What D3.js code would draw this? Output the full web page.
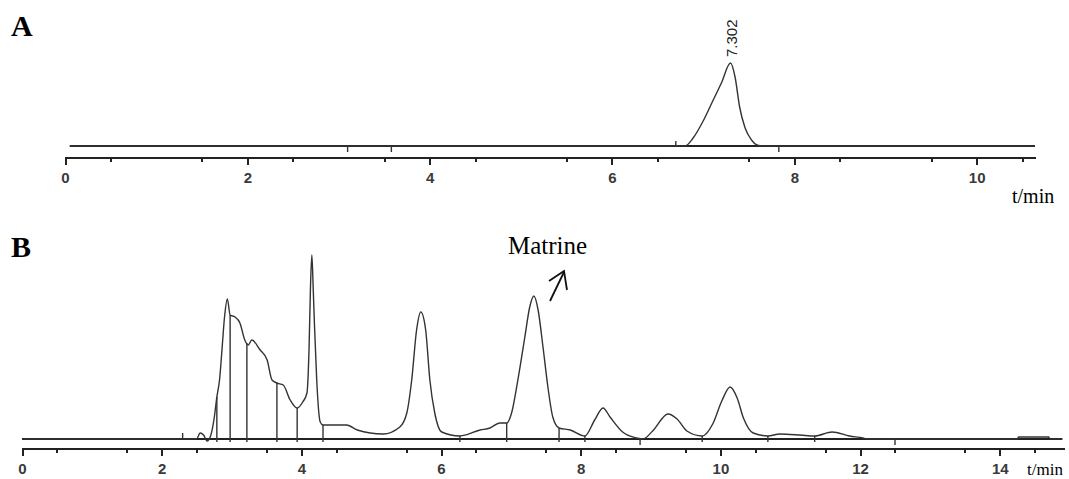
<!DOCTYPE html>
<meta charset="utf-8">
<style>
    body { margin: 0; background-color: #fff; }
    .axis path, .axis line { stroke: #222; stroke-width: 2px; shape-rendering: crispEdges; }
    .axis text { font: bold 15px "Liberation Sans", Arial, sans-serif; fill: #3a3a3a; }
    .base { stroke: #222; stroke-width: 1.6px; shape-rendering: crispEdges; }
    .trace { fill: none; stroke: #333; stroke-width: 1.4px; }
    .drop { stroke: #333; stroke-width: 1.4px; }
    .mark { stroke: #333; stroke-width: 1.4px; }
    .panel { font: bold 30px "Liberation Serif", "Times New Roman", serif; }
    .unit { font: 20px "Liberation Serif", "Times New Roman", serif; }
</style>
<body>
<svg width="1069" height="479"></svg>
<script src="https://d3js.org/d3.v7.min.js"></script>
<script>
    // panel A: standard (matrine)
    var timeA =   [0.05, 6.80, 6.89, 7.00, 7.10, 7.20, 7.30, 7.35, 7.40, 7.46, 7.53, 7.59, 7.65, 10.64];
    var signalA = [0,    0,    8,    25,   44,   63,   83,   69,   39,   18,   6,    1,    0,    0];
    var peakLabelA = {t: 7.30, label: "7.302"};
    var marksA = [3.1, 3.58, 7.83];   // small integration marks below baseline
    var marksAUp = [6.7];
    var majorA = [0, 2, 4, 6, 8, 10];
    var minorA = d3.range(0.5, 10.6, 1);

    // panel B: sample
    var timeB = [0.0, 2.30, 2.50, 2.55, 2.60, 2.65, 2.70, 2.75, 2.79, 2.83, 2.86, 2.90, 2.94, 2.98, 3.05, 3.12,
        3.19, 3.24, 3.29, 3.41, 3.51, 3.58, 3.65, 3.74, 3.84, 3.94, 4.02, 4.08, 4.11, 4.13, 4.15, 4.17, 4.19,
        4.22, 4.27, 4.31, 4.65, 4.80, 5.17, 5.41, 5.51, 5.58, 5.65, 5.71, 5.78, 5.84, 5.91, 6.01, 6.27, 6.56,
        6.70, 6.84, 6.94, 7.01, 7.10, 7.20, 7.27, 7.33, 7.39, 7.46, 7.53, 7.60, 7.69, 7.85, 8.06, 8.20, 8.32,
        8.42, 8.60, 8.80, 8.89, 9.03, 9.25, 9.38, 9.52, 9.74, 9.89, 10.02, 10.14, 10.24, 10.33, 10.47, 10.68,
        10.85, 11.14, 11.35, 11.60, 11.85, 12.04, 12.10, 14.25, 14.27, 14.70, 14.72, 14.90];
    var signalB = [0, 0, 0, 6, 4, -2, 3, 20, 42, 60, 86, 122, 140, 124, 122, 116,
        99, 94, 99, 89, 79, 59, 56, 54, 39, 31, 37, 46, 90, 150, 184, 150, 110,
        59, 17, 14, 14, 9, 5, 12, 26, 59, 109, 127, 109, 59, 26, 7, 3, 9,
        11, 16, 16, 26, 59, 102, 132, 143, 129, 92, 52, 22, 11, 9, 3, 19, 31,
        22, 7, 1, 0, 8, 25, 20, 8, 3, 15, 38, 52, 41, 21, 6, 3,
        5, 4, 3, 7, 3, 1, 0, 0, 2, 2, 0, 0];
    var dropsB = [2.79, 2.98, 3.22, 3.65, 3.94, 4.31, 6.27, 6.94, 7.69, 8.06, 9.74, 10.68, 11.35];
    var marksB = [8.85, 12.5];
    var marksBUp = [2.30];
    var majorB = [0, 2, 4, 6, 8, 10, 12, 14];
    var minorB = d3.range(0.5, 14.6, 1);

    var svg = d3.select("svg");

    var xA = d3.scaleLinear().domain([0, 10.64]).range([65, 1035]);
    var yA = d3.scaleLinear().domain([0, 83]).range([146, 63]);
    var xB = d3.scaleLinear().domain([0, 14.92]).range([22, 1064]);
    var yB = d3.scaleLinear().domain([0, 184]).range([439, 255]);

    function valueAt(times, vals, t) {
        var i = d3.bisectLeft(times, t);
        if (i <= 0) return vals[0];
        if (i >= times.length) return vals[vals.length - 1];
        var f = (t - times[i - 1]) / (times[i] - times[i - 1]);
        return vals[i - 1] + f * (vals[i] - vals[i - 1]);
    }

    function drawAxis(x, axisY, major, minor) {
        svg.append("g")
            .attr("class", "axis")
            .attr("transform", "translate(0," + axisY + ")")
            .call(d3.axisBottom(x).tickValues(minor).tickSize(5).tickSizeOuter(0).tickFormat(""));
        svg.append("g")
            .attr("class", "axis")
            .attr("transform", "translate(0," + axisY + ")")
            .call(d3.axisBottom(x).tickValues(major).tickSize(8).tickSizeOuter(0).tickPadding(7).tickFormat(d3.format("d")));
    }

    // ---------- panel A ----------
    svg.append("text").attr("class", "panel").attr("x", 11).attr("y", 36).text("A");

    svg.append("line").attr("class", "base")
        .attr("x1", xA(timeA[0])).attr("x2", xA(timeA[timeA.length - 1]))
        .attr("y1", yA(0)).attr("y2", yA(0));

    var lineA = d3.line()
        .x(function(d, i) { return xA(timeA[i]); })
        .y(function(d) { return yA(d); })
        .curve(d3.curveMonotoneX);

    svg.append("path").datum(signalA).attr("class", "trace").attr("d", lineA);

    svg.selectAll(".markA").data(marksA).enter().append("line")
        .attr("class", "mark")
        .attr("x1", function(d) { return xA(d); }).attr("x2", function(d) { return xA(d); })
        .attr("y1", yA(0)).attr("y2", yA(0) + 6);
    svg.selectAll(".markAUp").data(marksAUp).enter().append("line")
        .attr("class", "mark")
        .attr("x1", function(d) { return xA(d); }).attr("x2", function(d) { return xA(d); })
        .attr("y1", yA(0)).attr("y2", yA(0) - 5);

    svg.append("text")
        .attr("transform", "translate(" + (xA(peakLabelA.t) + 6) + "," + (yA(83) - 6) + ") rotate(-90)")
        .style("font", "15px 'Liberation Sans', Arial, sans-serif")
        .attr("fill", "#222")
        .text(peakLabelA.label);

    drawAxis(xA, 157, majorA, minorA);

    svg.append("text").attr("class", "unit").attr("x", 1012).attr("y", 203).text("t/min");

    // ---------- panel B ----------
    svg.append("text").attr("class", "panel").attr("x", 11).attr("y", 257).text("B");

    svg.append("line").attr("class", "base")
        .attr("x1", xB(0)).attr("x2", 1062)
        .attr("y1", yB(0)).attr("y2", yB(0));

    var lineB = d3.line()
        .x(function(d, i) { return xB(timeB[i]); })
        .y(function(d) { return yB(d); })
        .curve(d3.curveMonotoneX);

    svg.append("path").datum(signalB).attr("class", "trace").attr("d", lineB);

    svg.selectAll(".drop").data(dropsB).enter().append("line")
        .attr("class", "drop")
        .attr("x1", function(d) { return xB(d); }).attr("x2", function(d) { return xB(d); })
        .attr("y1", function(d) { return yB(valueAt(timeB, signalB, d)); })
        .attr("y2", yB(0) + 3);

    svg.selectAll(".markB").data(marksB).enter().append("line")
        .attr("class", "mark")
        .attr("x1", function(d) { return xB(d); }).attr("x2", function(d) { return xB(d); })
        .attr("y1", yB(0)).attr("y2", yB(0) + 6);
    svg.selectAll(".markBUp").data(marksBUp).enter().append("line")
        .attr("class", "mark")
        .attr("x1", function(d) { return xB(d); }).attr("x2", function(d) { return xB(d); })
        .attr("y1", yB(0)).attr("y2", yB(0) - 6);

    // Matrine annotation
    svg.append("text")
        .attr("x", 508).attr("y", 254)
        .style("font", "25px 'Liberation Serif', 'Times New Roman', serif")
        .text("Matrine");
    var arrow = svg.append("g").attr("fill", "none").attr("stroke", "#111").attr("stroke-width", 1.8);
    arrow.append("line").attr("x1", 550).attr("y1", 301).attr("x2", 564).attr("y2", 272);
    arrow.append("polyline").attr("points", "549,281 564,271 567,290");

    drawAxis(xB, 448, majorB, minorB);

    svg.append("text").attr("class", "unit").attr("x", 1027).attr("y", 475)
        .style("font-size", "17px").text("t/min");
</script>
</body>
